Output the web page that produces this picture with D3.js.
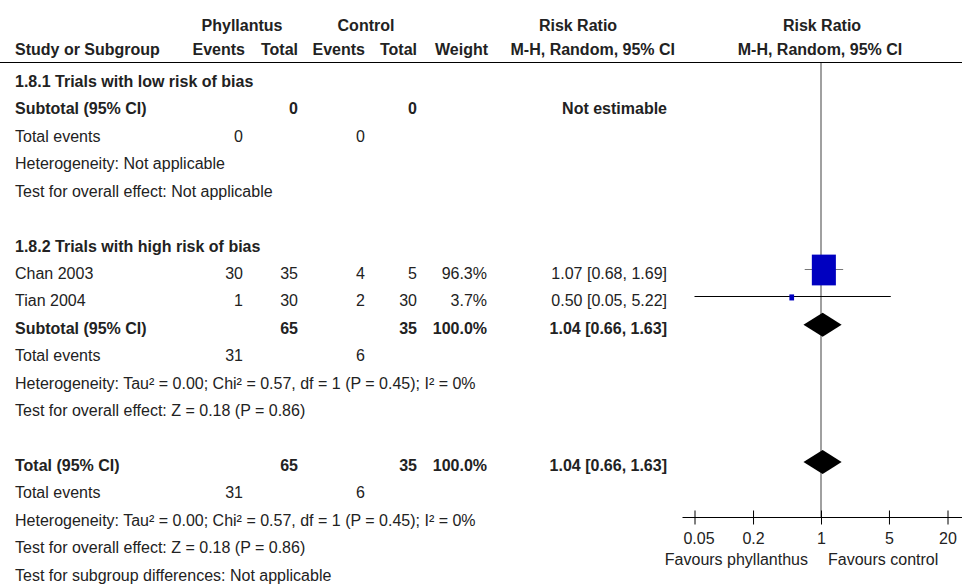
<!DOCTYPE html>
<html>
<head>
<meta charset="utf-8">
<script src="https://cdn.jsdelivr.net/npm/d3@7"></script>
<style>
  body { margin: 0; background: #fff; }
  svg { display: block; font-family: "Liberation Sans", Arial, sans-serif; font-size: 16px; }
  text { fill: #222; }
  .b { font-weight: bold; }
</style>
</head>
<body>
<div id="chart"></div>
<script>
// study rows (subgroup 1.8.2)
var studies = ["Chan 2003", "Tian 2004"];
var phylEvents = [30, 1];
var phylTotal = [35, 30];
var ctrlEvents = [4, 2];
var ctrlTotal = [5, 30];
var weights = [96.3, 3.7];
var rr = [1.07, 0.50];
var rrLow = [0.68, 0.05];
var rrHigh = [1.69, 5.22];

// pooled estimates: [subgroup 1.8.2, overall]
var pooledRR = [1.04, 1.04];
var pooledLow = [0.66, 0.66];
var pooledHigh = [1.63, 1.63];

// summary lines: [subgroup 1.8.1, subgroup 1.8.2, overall]
var subgroups = ["1.8.1 Trials with low risk of bias", "1.8.2 Trials with high risk of bias"];
var eventsPhyl = [0, 31, 31];
var eventsCtrl = [0, 6, 6];
var heterogeneity = ["Not applicable",
  "Tau² = 0.00; Chi² = 0.57, df = 1 (P = 0.45); I² = 0%",
  "Tau² = 0.00; Chi² = 0.57, df = 1 (P = 0.45); I² = 0%"];
var overallEffect = ["Not applicable", "Z = 0.18 (P = 0.86)", "Z = 0.18 (P = 0.86)"];

var tickValues = [0.05, 0.2, 1, 5, 20];

var svgWidth = 962;
var svgHeight = 586;

var svg = d3.select("#chart")
  .append("svg")
  .attr("width", svgWidth)
  .attr("height", svgHeight);

// scales
var x = d3.scaleLog().domain([0.05, 20]).range([694.5, 947.5]);
var y = d3.scaleLinear().domain([9, 16]).range([270, 462]);   // row index -> mark centre
var boxW = d3.scaleSqrt().domain([0, 100]).range([0, 24.5]);

// column right edges
var col = { ev1: 243, tot1: 298, ev2: 365, tot2: 417, wt: 487, ci: 667 };
var textOff = 9;

function ciText(m, l, h) {
  return m.toFixed(2) + " [" + l.toFixed(2) + ", " + h.toFixed(2) + "]";
}

// build table rows
var rows = [];
rows.push({ i: 2, label: subgroups[0], bold: true });
rows.push({ i: 3, label: "Subtotal (95% CI)", bold: true, tot1: 0, tot2: 0, ci: "Not estimable" });
rows.push({ i: 4, label: "Total events", ev1: eventsPhyl[0], ev2: eventsCtrl[0] });
rows.push({ i: 5, label: "Heterogeneity: " + heterogeneity[0] });
rows.push({ i: 6, label: "Test for overall effect: " + overallEffect[0] });
rows.push({ i: 8, label: subgroups[1], bold: true });
studies.forEach(function(s, k) {
  rows.push({ i: 9 + k, label: s, ev1: phylEvents[k], tot1: phylTotal[k], ev2: ctrlEvents[k],
    tot2: ctrlTotal[k], wt: weights[k].toFixed(1) + "%", ci: ciText(rr[k], rrLow[k], rrHigh[k]) });
});
rows.push({ i: 11, label: "Subtotal (95% CI)", bold: true, tot1: d3.sum(phylTotal), tot2: d3.sum(ctrlTotal),
  wt: d3.sum(weights).toFixed(1) + "%", ci: ciText(pooledRR[0], pooledLow[0], pooledHigh[0]) });
rows.push({ i: 12, label: "Total events", ev1: eventsPhyl[1], ev2: eventsCtrl[1] });
rows.push({ i: 13, label: "Heterogeneity: " + heterogeneity[1] });
rows.push({ i: 14, label: "Test for overall effect: " + overallEffect[1] });
rows.push({ i: 16, label: "Total (95% CI)", bold: true, tot1: d3.sum(phylTotal), tot2: d3.sum(ctrlTotal),
  wt: d3.sum(weights).toFixed(1) + "%", ci: ciText(pooledRR[1], pooledLow[1], pooledHigh[1]) });
rows.push({ i: 17, label: "Total events", ev1: eventsPhyl[2], ev2: eventsCtrl[2] });
rows.push({ i: 18, label: "Heterogeneity: " + heterogeneity[2] });
rows.push({ i: 19, label: "Test for overall effect: " + overallEffect[2] });
rows.push({ i: 20, label: "Test for subgroup differences: Not applicable" });

// header
var head = svg.append("g").attr("class", "b");
head.append("text").attr("x", 242).attr("y", 31).attr("text-anchor", "middle").text("Phyllantus");
head.append("text").attr("x", 366).attr("y", 31).attr("text-anchor", "middle").text("Control");
head.append("text").attr("x", 578).attr("y", 31).attr("text-anchor", "middle").text("Risk Ratio");
head.append("text").attr("x", x(1) + 1).attr("y", 31).attr("text-anchor", "middle").text("Risk Ratio");
head.append("text").attr("x", 15).attr("y", 55).text("Study or Subgroup");
[["Events", col.ev1 + 2], ["Total", col.tot1], ["Events", col.ev2], ["Total", col.tot2], ["Weight", col.wt + 1], ["M-H, Random, 95% CI", 675]]
  .forEach(function(h) {
    head.append("text").attr("x", h[1]).attr("y", 55).attr("text-anchor", "end").text(h[0]);
  });
head.append("text").attr("x", x(1) - 1).attr("y", 55).attr("text-anchor", "middle").text("M-H, Random, 95% CI");

svg.append("line")
  .attr("x1", 0).attr("x2", svgWidth)
  .attr("y1", 62.5).attr("y2", 62.5)
  .attr("stroke", "#000").attr("stroke-width", 1);

// table text
var rowG = svg.selectAll("g.row")
  .data(rows)
  .enter()
  .append("g")
  .attr("class", function(d) { return d.bold ? "row b" : "row"; })
  .attr("transform", function(d) { return "translate(0," + (y(d.i) + textOff) + ")"; });

rowG.append("text").attr("x", 15).text(function(d) { return d.label; });

["ev1", "tot1", "ev2", "tot2", "wt", "ci"].forEach(function(key) {
  rowG.filter(function(d) { return d[key] !== undefined; })
    .append("text")
    .attr("x", col[key])
    .attr("text-anchor", "end")
    .text(function(d) { return d[key]; });
});

// null line
var axisY = Math.round(y(18)) + 0.5;
svg.append("line")
  .attr("x1", x(1)).attr("x2", x(1))
  .attr("y1", 63).attr("y2", axisY)
  .attr("stroke", "#808080").attr("stroke-width", 1.5);

// study CIs and boxes
var studyG = svg.append("g");
studyG.selectAll("line.ci")
  .data(studies)
  .enter()
  .append("line")
  .attr("class", "ci")
  .attr("x1", function(d, k) { return x(rrLow[k]); })
  .attr("x2", function(d, k) { return x(rrHigh[k]); })
  .attr("y1", function(d, k) { return Math.round(y(9 + k)) - 0.5; })
  .attr("y2", function(d, k) { return Math.round(y(9 + k)) - 0.5; })
  .attr("stroke", function(d, k) { return weights[k] > 50 ? "#777" : "#000"; })
  .attr("stroke-width", 1);

studyG.selectAll("rect")
  .data(studies)
  .enter()
  .append("rect")
  .attr("x", function(d, k) { return x(rr[k]) - boxW(weights[k]) / 2; })
  .attr("y", function(d, k) { return y(9 + k) - boxW(weights[k]) * 1.28 / 2; })
  .attr("width", function(d, k) { return boxW(weights[k]); })
  .attr("height", function(d, k) { return boxW(weights[k]) * 1.28; })
  .attr("fill", "#0000c0");

// pooled diamonds
var diamondRows = [11, 16];
svg.selectAll("path.diamond")
  .data(diamondRows)
  .enter()
  .append("path")
  .attr("class", "diamond")
  .attr("d", function(r, k) {
    var cy = y(r);
    return "M" + x(pooledLow[k]) + "," + cy +
      "L" + x(pooledRR[k]) + "," + (cy - 12) +
      "L" + x(pooledHigh[k]) + "," + cy +
      "L" + x(pooledRR[k]) + "," + (cy + 12) + "Z";
  })
  .attr("fill", "#000");

// axis
var axisG = svg.append("g")
  .attr("transform", "translate(0," + axisY + ")")
  .call(d3.axisBottom(x).tickValues(tickValues).tickFormat(function(d) { return d; }).tickSizeOuter(0));

axisG.select(".domain").remove();
axisG.attr("font-size", null).attr("font-family", null);
axisG.selectAll(".tick line").attr("y1", -7).attr("y2", 7).attr("stroke", "#000");
axisG.selectAll(".tick text")
  .attr("y", 26.5)
  .attr("dy", null)
  .attr("dx", function(d, i) { return i === 0 ? 4 : 0; });

axisG.append("line")
  .attr("x1", x.range()[0] - 12).attr("x2", svgWidth)
  .attr("y1", 0).attr("y2", 0)
  .attr("stroke", "#000");

svg.append("text")
  .attr("x", x(1) - 13).attr("y", 565)
  .attr("text-anchor", "end")
  .text("Favours phyllanthus");
svg.append("text")
  .attr("x", x(1) + 7).attr("y", 565)
  .text("Favours control");
</script>
</body>
</html>
